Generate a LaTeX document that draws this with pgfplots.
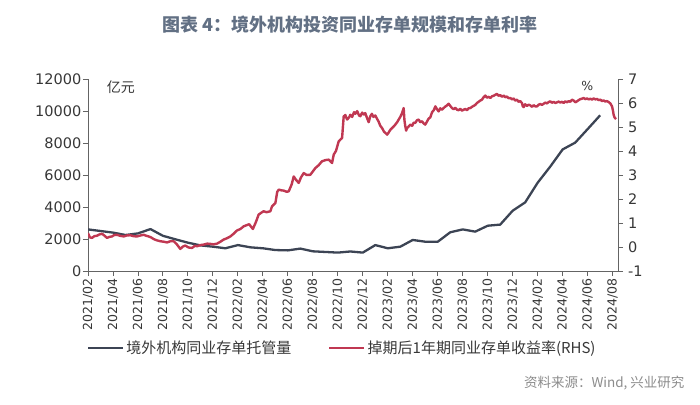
\documentclass[border=0pt]{standalone}
\usepackage{pgfplots}
\pgfplotsset{compat=1.18}
\usepackage{fontspec}
\setmainfont{DejaVu Sans}
\newfontfamily\cjk{Noto Sans CJK SC}
\definecolor{slate}{RGB}{60,68,84}
\definecolor{crimson}{RGB}{192,56,82}
\definecolor{titleblue}{RGB}{98,112,132}
\definecolor{axisgray}{RGB}{100,100,100}
\definecolor{labelgray}{RGB}{55,55,55}
\definecolor{srcgray}{RGB}{140,140,140}

% custody volume (100m yuan), monthly, x = months since 2021/02
\pgfplotstableread{
m L
0 2600
1 2500
2 2400
3 2250
4 2350
5 2620
6 2200
7 1980
8 1770
9 1600
10 1520
11 1420
12 1620
13 1480
14 1420
15 1310
16 1290
17 1400
18 1230
19 1190
20 1150
21 1220
22 1150
23 1620
24 1420
25 1520
26 1940
27 1830
28 1830
29 2420
30 2600
31 2460
32 2830
33 2900
34 3770
35 4290
36 5520
37 6520
38 7600
39 8020
40 8870
41 9730
}\custody

% swapped 1y NCD yield (%)
\pgfplotstableread{
m R
0.00 0.58
0.15 0.40
0.32 0.38
0.50 0.45
0.72 0.47
0.90 0.52
1.12 0.55
1.30 0.48
1.52 0.38
1.70 0.42
1.92 0.44
2.10 0.50
2.32 0.51
2.55 0.47
2.86 0.44
3.10 0.48
3.39 0.49
3.65 0.45
3.92 0.44
4.20 0.48
4.46 0.51
4.65 0.47
4.86 0.44
5.05 0.40
5.26 0.33
5.50 0.28
5.79 0.24
6.05 0.22
6.33 0.19
6.60 0.24
6.86 0.24
7.10 0.12
7.39 -0.08
7.60 0.02
7.79 0.06
8.05 -0.02
8.33 -0.04
8.55 0.05
8.73 0.03
9.00 0.08
9.26 0.10
9.55 0.14
9.79 0.13
10.05 0.11
10.33 0.14
10.60 0.22
10.86 0.31
11.10 0.36
11.40 0.44
11.65 0.55
11.93 0.69
12.20 0.75
12.46 0.86
12.90 0.95
13.20 0.75
13.45 1.05
13.66 1.35
13.85 1.42
14.06 1.49
14.30 1.45
14.60 1.49
14.73 1.69
14.90 1.78
15.00 1.83
15.15 2.30
15.27 2.39
15.50 2.36
15.67 2.35
15.90 2.30
16.07 2.32
16.30 2.60
16.47 2.94
16.65 2.80
16.87 2.67
17.05 2.90
17.27 3.08
17.50 3.00
17.80 3.01
18.00 3.15
18.20 3.29
18.45 3.40
18.73 3.57
19.00 3.62
19.27 3.64
19.45 3.55
19.54 3.50
19.67 3.85
19.85 4.00
20.07 4.40
20.25 4.50
20.34 4.54
20.47 5.44
20.60 5.50
20.74 5.31
20.90 5.40
21.00 5.51
21.15 5.42
21.30 5.62
21.40 5.55
21.55 5.66
21.70 5.48
21.80 5.45
21.95 5.60
22.08 5.52
22.20 5.58
22.32 5.40
22.47 5.20
22.60 5.45
22.73 5.55
22.85 5.42
23.00 5.48
23.13 5.35
23.27 5.22
23.40 5.05
23.55 4.95
23.70 4.80
23.82 4.75
23.95 4.68
24.08 4.78
24.20 4.88
24.33 4.95
24.47 5.02
24.60 5.10
24.75 5.20
24.87 5.31
25.00 5.42
25.14 5.58
25.27 5.79
25.33 5.30
25.40 5.03
25.47 4.85
25.54 4.95
25.67 5.02
25.80 5.10
25.95 5.05
26.07 5.18
26.20 5.17
26.33 5.28
26.47 5.31
26.60 5.20
26.74 5.24
26.87 5.15
27.00 5.10
27.13 5.22
27.27 5.35
27.40 5.40
27.55 5.62
27.68 5.70
27.81 5.86
27.94 5.74
28.07 5.65
28.20 5.78
28.33 5.72
28.47 5.79
28.60 5.85
28.74 5.90
28.87 5.97
29.00 5.88
29.14 5.79
29.27 5.74
29.40 5.80
29.54 5.72
29.67 5.70
29.80 5.76
29.94 5.68
30.07 5.72
30.20 5.75
30.34 5.70
30.47 5.78
30.61 5.79
30.74 5.84
30.87 5.88
31.00 5.92
31.14 6.00
31.27 6.05
31.40 6.10
31.54 6.14
31.67 6.24
31.81 6.31
31.94 6.22
32.07 6.26
32.21 6.21
32.34 6.28
32.47 6.30
32.60 6.34
32.74 6.38
32.87 6.30
33.00 6.33
33.14 6.26
33.28 6.31
33.41 6.24
33.54 6.27
33.67 6.20
33.81 6.21
33.94 6.15
34.07 6.19
34.20 6.10
34.34 6.14
34.47 6.05
34.60 6.08
34.74 6.00
34.81 5.86
34.88 5.83
35.00 5.95
35.14 5.88
35.28 5.93
35.41 5.90
35.55 5.84
35.68 5.91
35.81 5.86
35.95 5.86
36.08 5.93
36.21 5.96
36.34 5.92
36.48 5.97
36.61 6.02
36.74 5.98
36.88 6.04
37.01 6.07
37.14 6.01
37.28 6.05
37.41 6.00
37.55 6.03
37.68 6.06
37.81 6.02
37.95 6.05
38.08 6.00
38.21 6.07
38.35 6.03
38.48 6.08
38.61 6.05
38.75 6.14
38.88 6.10
39.02 6.03
39.15 6.07
39.28 6.12
39.41 6.16
39.55 6.18
39.68 6.21
39.81 6.16
39.95 6.19
40.08 6.15
40.22 6.18
40.35 6.14
40.48 6.19
40.62 6.15
40.75 6.17
40.88 6.12
41.02 6.14
41.15 6.08
41.28 6.11
41.41 6.06
41.55 6.08
41.68 6.04
41.82 5.98
41.95 5.86
42.02 5.70
42.08 5.51
42.15 5.40
42.27 5.33
}\yield

\pgfplotsset{
  frame/.style={
    at={(88pt,133pt)}, anchor=south west,
    scale only axis, width=530pt, height=192pt,
    xmin=0, xmax=42.43,
    axis line style={axisgray, line width=0.9pt},
    tick style={axisgray, line width=0.9pt},
    tick align=outside, major tick length=5pt,
    ticklabel style={text=labelgray},
    scaled y ticks=false,
    legend image code/.code={\draw[#1] (0pt,0pt) -- (35pt,0pt);},
    legend style={anchor=west, draw=none, fill=none, inner sep=0pt,
      font=\cjk\fontsize{15}{16}\selectfont, text=labelgray},
  }
}

\begin{document}
\begin{tikzpicture}[x=1pt,y=1pt]
\path[use as bounding box] (0,0) rectangle (700,404);

\node[font=\cjk\bfseries\fontsize{18}{20}\selectfont, text=titleblue] at (350,379)
  {图表 4：境外机构投资同业存单规模和存单利率};
\node[font=\cjk\fontsize{13.5}{15}\selectfont, text=srcgray, anchor=east] at (688,20.5)
  {资料来源：Wind, 兴业研究};

\begin{axis}[frame,
  ymin=0, ymax=12000,
  axis x line*=bottom, axis y line*=left,
  xtick={0,2,...,42},
  xticklabels={2021/02,2021/04,2021/06,2021/08,2021/10,2021/12,
    2022/02,2022/04,2022/06,2022/08,2022/10,2022/12,
    2023/02,2023/04,2023/06,2023/08,2023/10,2023/12,
    2024/02,2024/04,2024/06,2024/08},
  xticklabel style={rotate=90, anchor=east, inner sep=2pt,
    font=\fontsize{12.5}{13}\selectfont},
  ytick={0,2000,...,12000},
  yticklabels={0,2000,4000,6000,8000,10000,12000},
  yticklabel style={inner sep=1.5pt, font=\fontsize{14.5}{15}\selectfont},
  legend style={at={(axis description cs:-0.002,-0.401)}},
]
\addplot[slate, line width=2.3pt, line join=round] table[x=m, y=L] {\custody};
\addlegendentry{境外机构同业存单托管量}
\node[font=\cjk\fontsize{14}{15}\selectfont, text=labelgray] at (axis description cs:0.062,0.958) {亿元};
\end{axis}

\begin{axis}[frame,
  ymin=-1, ymax=7,
  axis x line=none, axis y line*=right,
  ytick={-1,0,...,7},
  yticklabels={-1,0,1,2,3,4,5,6,7},
  yticklabel style={inner sep=5pt, font=\fontsize{14.5}{15}\selectfont},
  legend style={at={(axis description cs:0.453,-0.401)}},
]
\addplot[crimson, line width=2.4pt, line join=round] table[x=m, y=R] {\yield};
\addlegendentry{掉期后1年期同业存单收益率(RHS)}
\node[font=\fontsize{12.5}{13}\selectfont, text=labelgray] at (axis description cs:0.942,0.966) {\%};
\end{axis}
\end{tikzpicture}
\end{document}
